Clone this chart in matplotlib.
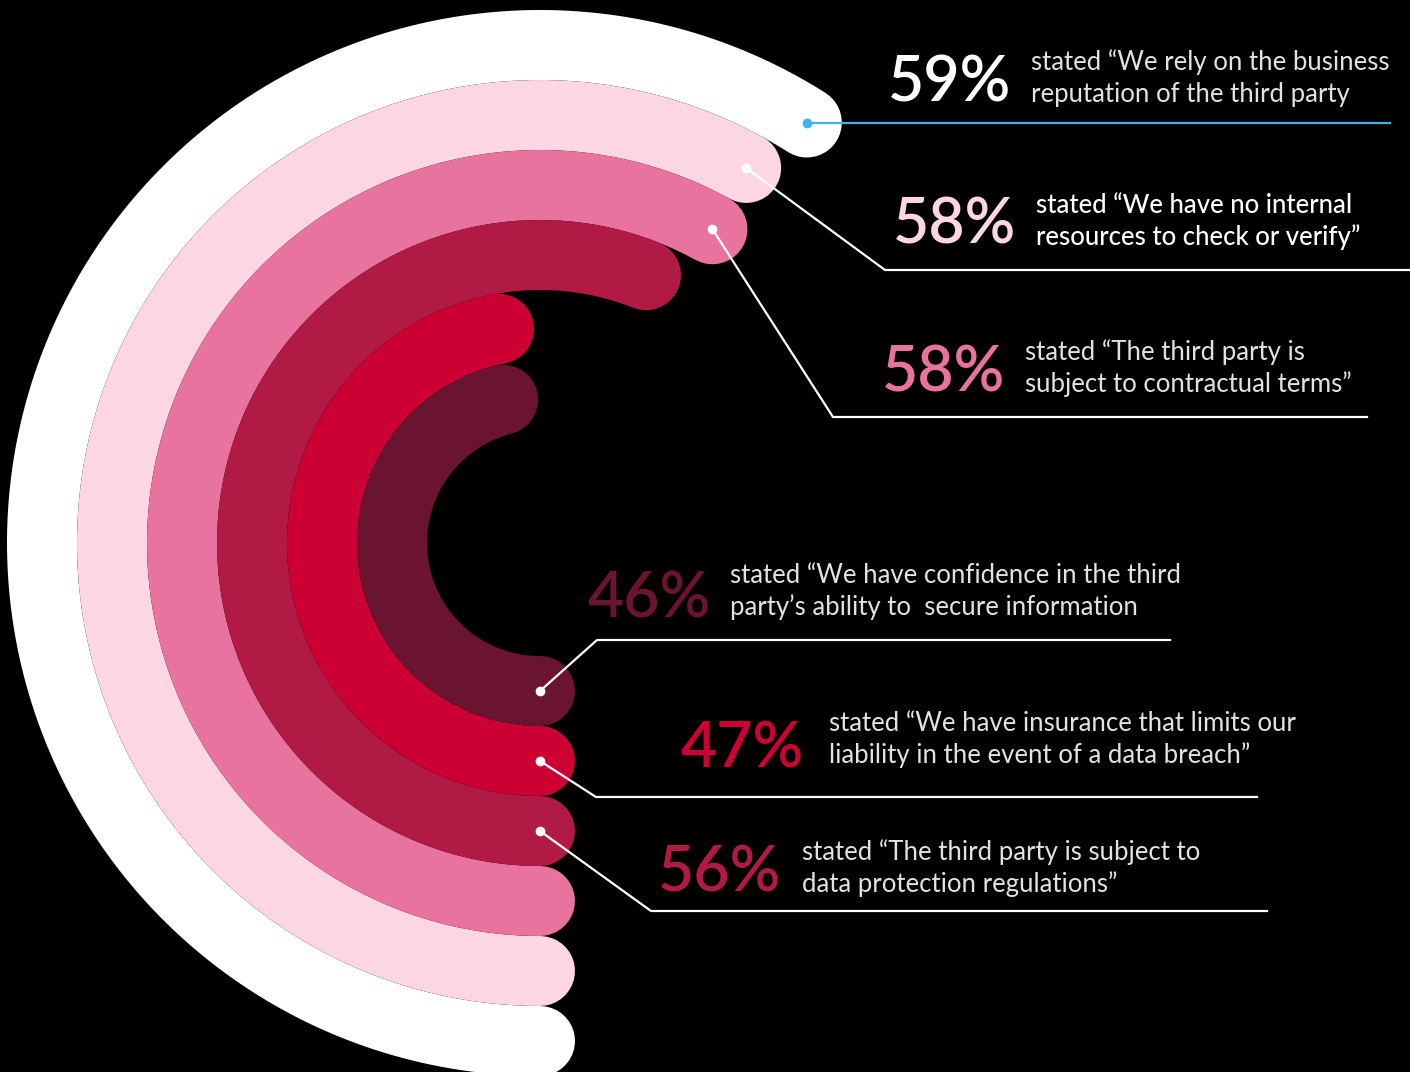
import numpy as np
import matplotlib.pyplot as plt

# survey answers, outer ring first
pct = [59, 58, 58, 56, 47, 46]
labels = [
    "stated \u201cWe rely on the business\nreputation of the third party",
    "stated \u201cWe have no internal\nresources to check or verify\u201d",
    "stated \u201cThe third party is\nsubject to contractual terms\u201d",
    "stated \u201cThe third party is subject to\ndata protection regulations\u201d",
    "stated \u201cWe have insurance that limits our\nliability in the event of a data breach\u201d",
    "stated \u201cWe have confidence in the third\nparty\u2019s ability to  secure information",
]
colors = ['#ffffff', '#fdd6e4', '#e8739f', '#b01a44', '#cc0033', '#6b1432']
line_colors = ['#3db5e6', 'white', 'white', 'white', 'white', 'white']

W, H = 1410, 1072
fig = plt.figure(figsize=(W / 100, H / 100), dpi=100, facecolor='black')

# polar axes centred where the rings are, radius in pixels
cx, cy, R = 540, 543, 540
ax = fig.add_axes([(cx - R) / W, (H - cy - R) / H, 2 * R / W, 2 * R / H],
                  projection='polar')
ax.set_theta_zero_location('S')
ax.set_theta_direction(-1)
ax.set_ylim(0, R)
ax.axis('off')
ax.patch.set_alpha(0)

ring_r = [498 - 70 * i for i in range(len(pct))]
lw = 70 * 72 / 100
for i, (p, c) in enumerate(zip(pct, colors)):
    th = np.linspace(0, p / 100 * 2 * np.pi, 400)
    ax.plot(th, np.full_like(th, ring_r[i]), color=c, lw=lw,
            solid_capstyle='round', zorder=2 + i, clip_on=False)

# overlay in pixel coords for labels and leader lines
ax2 = fig.add_axes([0, 0, 1, 1])
ax2.set_xlim(0, W)
ax2.set_ylim(H, 0)
ax2.axis('off')
ax2.patch.set_alpha(0)

anchor = ['end', 'end', 'end', 'start', 'start', 'start']
elbow = [None, (885, 270), (833, 417), (651, 911), (596, 797), (597, 640)]
line_end = [1390, 1410, 1367, 1267, 1257, 1170]
num_xy = [(888, 101), (893, 244), (882, 392), (658, 891), (681, 767), (588, 617)]
desc_xy = [(1031, 70), (1036, 213), (1025, 360), (802, 860), (829, 731), (730, 583)]

inv = ax2.transData.inverted()
for i, p in enumerate(pct):
    th = p / 100 * 2 * np.pi if anchor[i] == 'end' else 0
    dx, dy = inv.transform(ax.transData.transform((th, ring_r[i])))
    if elbow[i] is None:
        xs, ys = [dx, line_end[i]], [dy, dy]
    else:
        ex, ey = elbow[i]
        xs, ys = [dx, ex, line_end[i]], [dy, ey, ey]
    ax2.plot(xs, ys, color=line_colors[i], lw=1.6, zorder=20)
    ax2.plot(dx, dy, 'o', color=line_colors[i], ms=6, zorder=21)

    ax2.text(num_xy[i][0], num_xy[i][1], f"{p}%", color=colors[i],
             fontsize=45, fontfamily='Lato', fontweight='semibold',
             ha='left', va='baseline')
    for k, line in enumerate(labels[i].split('\n')):
        ax2.text(desc_xy[i][0], desc_xy[i][1] + 32 * k, line,
                 color='white' if i == 1 else '#e2e2e2',
                 fontsize=18.5, fontfamily='Lato',
                 fontweight='medium' if i == 1 else 'normal',
                 ha='left', va='baseline')

fig.savefig('out.png', dpi=100, facecolor='black')
